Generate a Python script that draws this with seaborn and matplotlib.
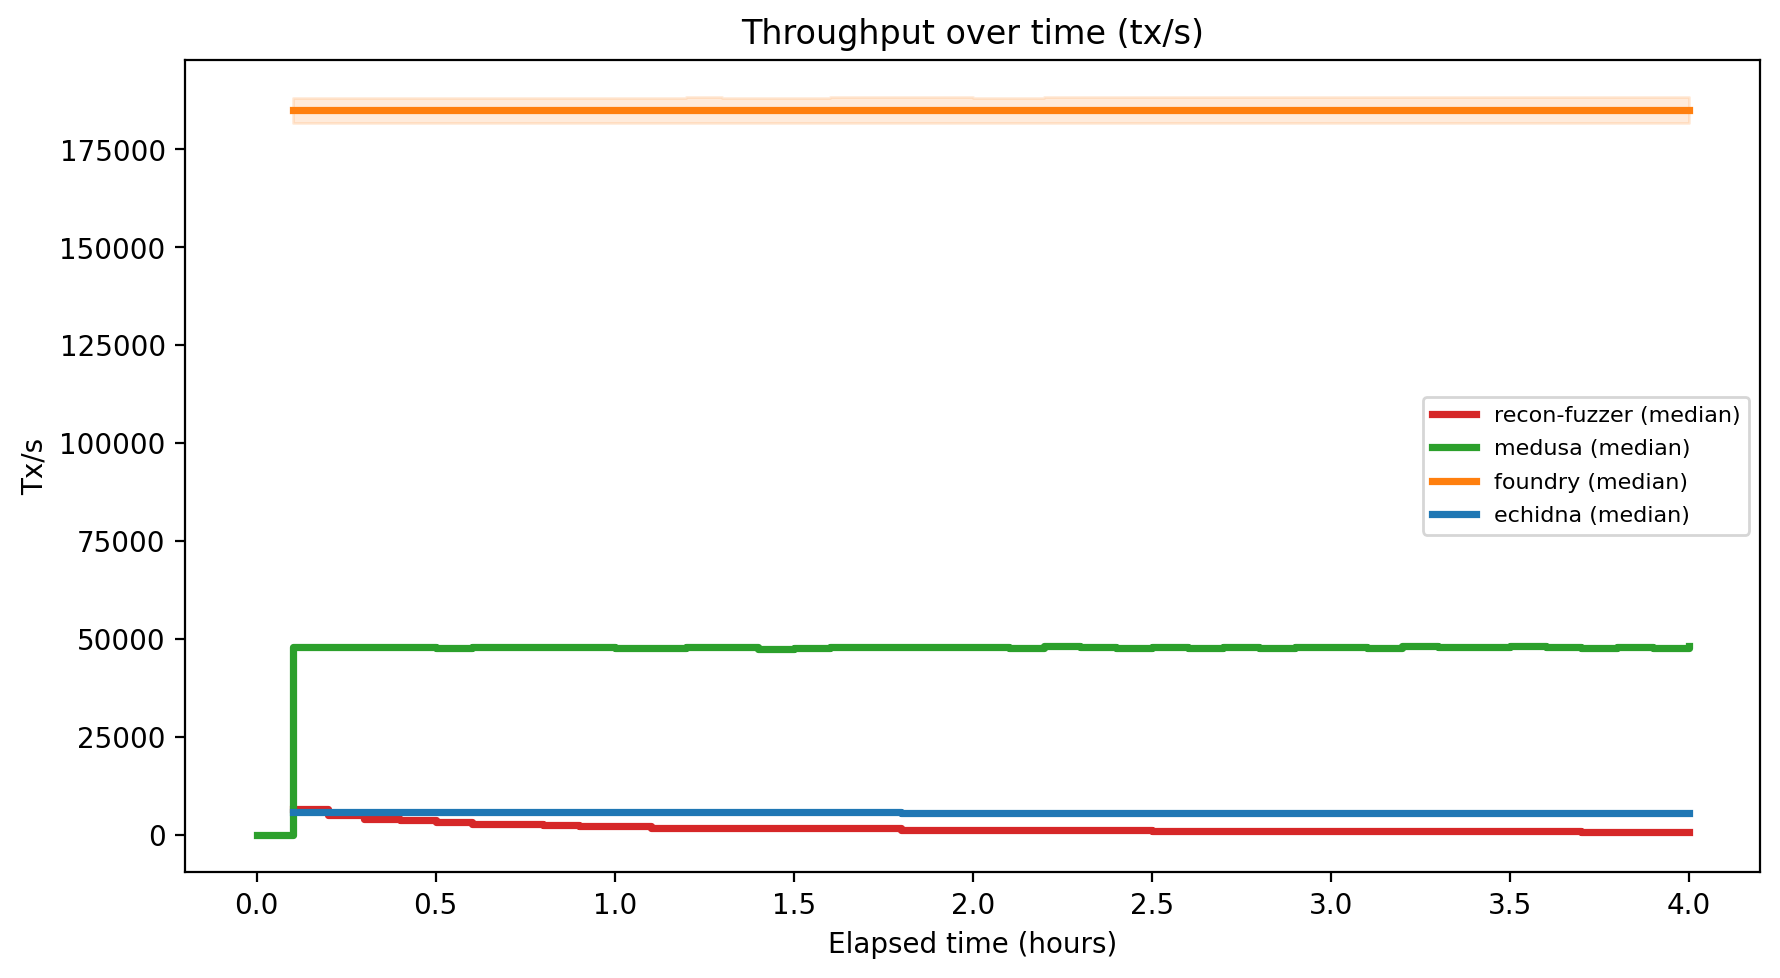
"""Throughput over time (tx/s), median step lines per fuzzer."""

import matplotlib

matplotlib.use("Agg")

import matplotlib.pyplot as plt
import pandas as pd
import seaborn as sns

OUTPUT_FILE = "out.png"

# elapsed time in hours (one sample every 6 minutes)
TIME_H = [
    0.0, 0.1, 0.2, 0.3, 0.4, 0.5, 0.6, 0.7, 0.8, 0.9, 1.0,
    1.1, 1.2, 1.3, 1.4, 1.5, 1.6, 1.7, 1.8, 1.9, 2.0,
    2.1, 2.2, 2.3, 2.4, 2.5, 2.6, 2.7, 2.8, 2.9, 3.0,
    3.1, 3.2, 3.3, 3.4, 3.5, 3.6, 3.7, 3.8, 3.9, 4.0,
]

# medusa has a sample at t=0, the others start at t=0.1
MEDUSA = [
    0, 48000, 48000, 48000, 48000, 47750, 48000, 48000, 48000, 48000, 47800,
    47800, 48000, 47850, 47400, 47700, 48000, 48000, 48000, 48000, 48000,
    47800, 48250, 48000, 47800, 48000, 47800, 48000, 47800, 48000, 48000,
    47800, 48250, 47850, 47850, 48250, 48000, 47800, 48000, 47800, 48100,
]
RECON_FUZZER = [
    6700, 4950, 4050, 3800, 3300, 2700, 2700, 2500, 2250, 2250,
    1850, 1850, 1850, 1700, 1700, 1700, 1700, 1350, 1350, 1350,
    1350, 1350, 1350, 1350, 1050, 1050, 1050, 1050, 1050, 1050,
    1050, 1050, 1050, 1050, 1050, 1050, 800, 800, 800, 800,
]
ECHIDNA = [
    5900, 5900, 5900, 5900, 5900, 5900, 5900, 5900, 5900, 5900,
    5900, 5900, 5900, 5900, 5900, 5900, 5900, 5650, 5650, 5650,
    5650, 5650, 5650, 5650, 5650, 5650, 5650, 5650, 5650, 5650,
    5650, 5650, 5650, 5650, 5650, 5650, 5650, 5650, 5650, 5650,
]
FOUNDRY = [185000] * 40
FOUNDRY_LOW = [181800] * 40
FOUNDRY_HIGH = [
    188000, 188000, 188000, 188000, 188000, 188000, 188000, 188000, 188000, 188000,
    188000, 188400, 188000, 188000, 188000, 188300, 188300, 188300, 188300, 188000,
    188000, 188300, 188300, 188300, 188300, 188300, 188300, 188300, 188300, 188300,
    188300, 188300, 188300, 188300, 188300, 188300, 188300, 188300, 188300, 188300,
]

COLORS = {
    "recon-fuzzer": "#d62728",
    "medusa": "#2ca02c",
    "foundry": "#ff7f0e",
    "echidna": "#1f77b4",
}


def main() -> None:
    later = TIME_H[1:]
    series = [
        ("recon-fuzzer", later, RECON_FUZZER),
        ("medusa", TIME_H, MEDUSA),
        ("foundry", later, FOUNDRY),
        ("echidna", later, ECHIDNA),
    ]

    fig, ax = plt.subplots(figsize=(8.9, 4.892), dpi=200)
    fig.subplots_adjust(left=0.104, right=0.989, top=0.9385, bottom=0.1086)

    for name, times, values in series:
        df = pd.DataFrame({"hours": times, "tps": values})
        if name == "foundry":
            ax.fill_between(later, FOUNDRY_LOW, FOUNDRY_HIGH, step="post",
                            color=COLORS[name], alpha=0.15)
        sns.lineplot(data=df, x="hours", y="tps", ax=ax, color=COLORS[name],
                     lw=2.6, drawstyle="steps-post", errorbar=None,
                     label=f"{name} (median)")

    ax.set_title("Throughput over time (tx/s)")
    ax.set_xlabel("Elapsed time (hours)")
    ax.set_ylabel("Tx/s")
    ax.legend(loc="center right", fontsize=8, labelspacing=0.6)

    fig.savefig(OUTPUT_FILE, dpi=200)
    plt.close(fig)


if __name__ == "__main__":
    main()
